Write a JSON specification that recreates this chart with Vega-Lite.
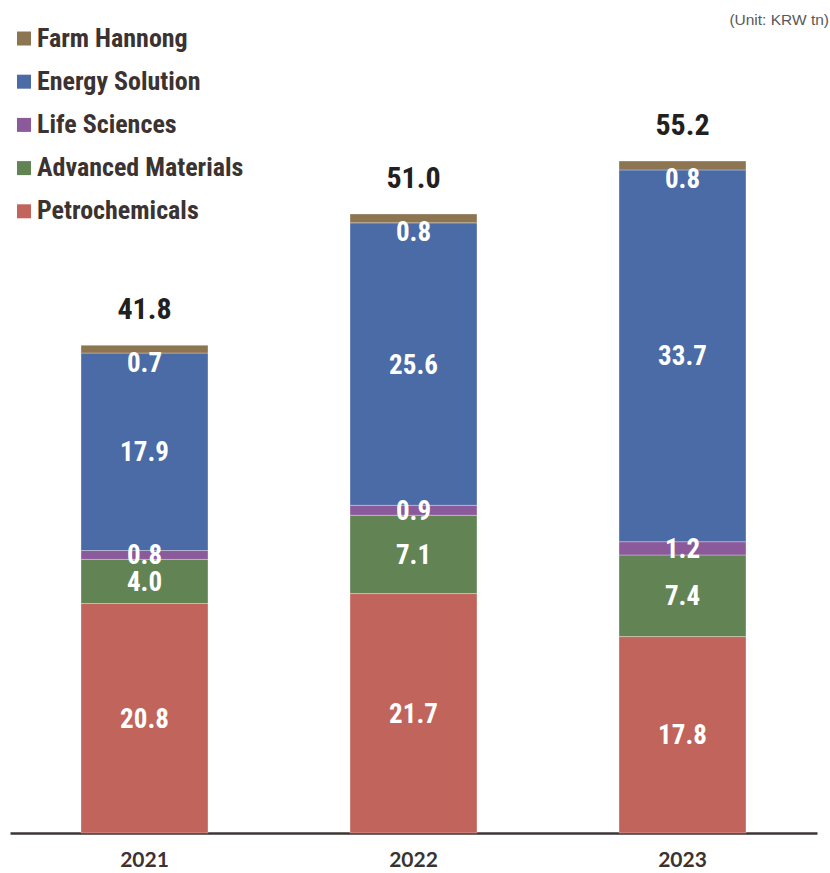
{
  "$schema": "https://vega.github.io/schema/vega-lite/v6.json",
  "autosize": {"type": "none"},
  "width": 807,
  "height": 833,
  "padding": {"left": 10, "top": 0, "right": 13, "bottom": 40},
  "background": "white",
  "title": {
    "text": "(Unit: KRW tn)",
    "anchor": "end",
    "frame": "group",
    "orient": "top",
    "font": "Liberation Sans",
    "fontSize": 15.5,
    "fontWeight": "normal",
    "color": "#595959",
    "offset": -28,
    "dx": 12
  },
  "datasets": {
    "segments": [
      {"year": "2021", "segment": "Petrochemicals", "order": 1, "value": 20.8},
      {"year": "2021", "segment": "Advanced Materials", "order": 2, "value": 4.0},
      {"year": "2021", "segment": "Life Sciences", "order": 3, "value": 0.8},
      {"year": "2021", "segment": "Energy Solution", "order": 4, "value": 17.9},
      {"year": "2021", "segment": "Farm Hannong", "order": 5, "value": 0.7},
      {"year": "2022", "segment": "Petrochemicals", "order": 1, "value": 21.7},
      {"year": "2022", "segment": "Advanced Materials", "order": 2, "value": 7.1},
      {"year": "2022", "segment": "Life Sciences", "order": 3, "value": 0.9},
      {"year": "2022", "segment": "Energy Solution", "order": 4, "value": 25.6},
      {"year": "2022", "segment": "Farm Hannong", "order": 5, "value": 0.8},
      {"year": "2023", "segment": "Petrochemicals", "order": 1, "value": 17.8},
      {"year": "2023", "segment": "Advanced Materials", "order": 2, "value": 7.4},
      {"year": "2023", "segment": "Life Sciences", "order": 3, "value": 1.2},
      {"year": "2023", "segment": "Energy Solution", "order": 4, "value": 33.7},
      {"year": "2023", "segment": "Farm Hannong", "order": 5, "value": 0.8}
    ],
    "totals": [
      {"year": "2021", "total": 41.8},
      {"year": "2022", "total": 51.0},
      {"year": "2023", "total": 55.2}
    ]
  },
  "data": {"name": "segments"},
  "transform": [
    {"stack": "value", "groupby": ["year"], "sort": [{"field": "order", "order": "ascending"}], "as": ["y0", "y1"]},
    {"calculate": "(datum.y0 + datum.y1) / 2", "as": "ymid"}
  ],
  "encoding": {
    "x": {
      "field": "year",
      "type": "nominal",
      "scale": {"paddingInner": 0.528, "paddingOuter": 0.264},
      "axis": {
        "title": null,
        "labelAngle": 0,
        "ticks": false,
        "domainColor": "#3d3535",
        "domainWidth": 2.5,
        "labelFont": "Lato",
        "labelFontWeight": "bold",
        "labelFontSize": 21,
        "labelColor": "#3b3331",
        "labelPadding": 16
      }
    }
  },
  "layer": [
    {
      "mark": {"type": "bar", "stroke": "#ffffff", "strokeWidth": 0.6, "strokeOpacity": 0.5},
      "encoding": {
        "y": {"field": "y0", "type": "quantitative", "scale": {"domain": [0, 75.5], "nice": false, "zero": true}, "axis": null},
        "y2": {"field": "y1"},
        "color": {
          "field": "segment",
          "type": "nominal",
          "scale": {
            "domain": ["Farm Hannong", "Energy Solution", "Life Sciences", "Advanced Materials", "Petrochemicals"],
            "range": ["#8C7550", "#4A6BA5", "#8B5A9A", "#628454", "#C0645C"]
          },
          "legend": {
            "title": null,
            "orient": "none",
            "legendX": 1,
            "legendY": 25.5,
            "direction": "vertical",
            "symbolType": "square",
            "symbolSize": 196,
            "symbolStrokeWidth": 0,
            "symbolOpacity": 1,
            "labelFont": "Roboto Condensed, Noto Sans Condensed, DejaVu Sans Condensed, Liberation Sans",
            "labelFontWeight": "bold",
            "labelFontSize": 26,
            "labelColor": "#3b3331",
            "labelOffset": 0,
            "rowPadding": 17.2,
            "padding": 0,
            "labelLimit": 400
          }
        }
      }
    },
    {
      "transform": [{"filter": "datum.segment !== 'Farm Hannong'"}],
      "mark": {"type": "text", "color": "white", "font": "Roboto Condensed, Noto Sans Condensed, DejaVu Sans Condensed, Liberation Sans", "fontWeight": "bold", "fontSize": 27, "baseline": "middle", "align": "center", "dy": 1.5},
      "encoding": {
        "y": {"field": "ymid", "type": "quantitative"},
        "text": {"field": "value", "type": "quantitative", "format": ".1f"}
      }
    },
    {
      "transform": [{"filter": "datum.segment === 'Farm Hannong'"}],
      "mark": {"type": "text", "color": "white", "font": "Roboto Condensed, Noto Sans Condensed, DejaVu Sans Condensed, Liberation Sans", "fontWeight": "bold", "fontSize": 27, "baseline": "middle", "align": "center", "dy": 18.5},
      "encoding": {
        "y": {"field": "y1", "type": "quantitative"},
        "text": {"field": "value", "type": "quantitative", "format": ".1f"}
      }
    },
    {
      "transform": [
        {"aggregate": [{"op": "max", "field": "y1", "as": "top"}], "groupby": ["year"]},
        {"lookup": "year", "from": {"data": {"name": "totals"}, "key": "year", "fields": ["total"]}}
      ],
      "mark": {"type": "text", "color": "#231f20", "font": "Roboto Condensed, Noto Sans Condensed, DejaVu Sans Condensed, Liberation Sans", "fontWeight": "bold", "fontSize": 30, "baseline": "middle", "align": "center", "dy": -35},
      "encoding": {
        "y": {"field": "top", "type": "quantitative"},
        "text": {"field": "total", "type": "quantitative", "format": ".1f"}
      }
    }
  ],
  "config": {
    "view": {"stroke": null},
    "font": "Liberation Sans"
  }
}
